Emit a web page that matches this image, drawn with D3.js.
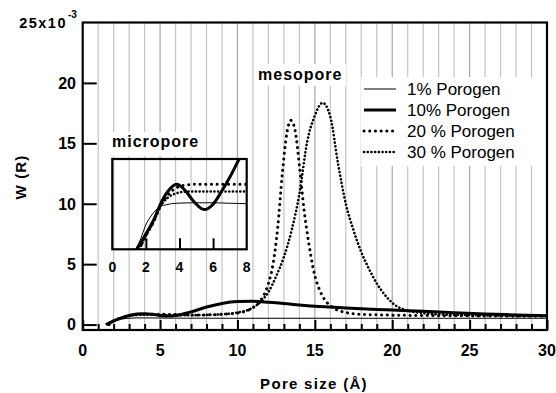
<!DOCTYPE html>
<html>
<head>
<meta charset="utf-8">
<script src="https://cdn.jsdelivr.net/npm/d3@7"></script>
<style>
  body { margin: 0; background: #fff; }
  text { font-family: Arial, "Liberation Sans", sans-serif; }
</style>
</head>
<body>
<div id="chart"></div>
<script>
// ---- data (pore size in Å, W(R) in 1e-3) ----
const seriesNames = ['1% Porogen', '10% Porogen', '20 % Porogen', '30 % Porogen'];

const p1 = [[1.5,0],[2,0.3],[2.5,0.45],[3,0.52],[3.5,0.55],[4,0.55],[6,0.53],[10,0.52],[15,0.52],[20,0.52],[25,0.52],[30,0.52]];
const p10 = [[1.5,0],[2,0.3],[2.5,0.55],[3,0.75],[3.5,0.88],[4,0.9],[4.5,0.85],[5,0.75],[5.5,0.7],[6,0.75],[7,1.05],[8,1.45],
  [9,1.75],[10,1.9],[11,1.92],[12,1.85],[13,1.75],[14,1.62],[15,1.52],[16,1.45],[17,1.38],[18,1.31],[19,1.25],[20,1.2],
  [22,1.1],[24,0.98],[26,0.88],[28,0.8],[30,0.72]];
const p20 = [[1.7,0],[2,0.3],[2.5,0.55],[3,0.72],[3.5,0.82],[4,0.85],[5,0.85],[6,0.83],[7,0.8],[8,0.8],[9,0.85],[10,0.95],
  [10.5,1.1],[11,1.4],[11.5,2.0],[12,3.4],[12.3,5.0],[12.6,8.0],[12.9,12.5],[13.2,15.9],[13.45,16.9],[13.7,16.2],[14,13.2],
  [14.3,9.5],[14.6,6.8],[14.9,4.6],[15.4,2.6],[15.8,1.8],[16.3,1.3],[17,1.0],[18,0.85],[20,0.78],[25,0.72],[30,0.68]];
const p30 = [[1.7,0],[2,0.3],[2.5,0.55],[3,0.72],[3.5,0.8],[4,0.82],[5,0.8],[6,0.78],[7,0.78],[8,0.8],[9,0.85],[10,1.0],
  [11,1.4],[11.5,1.9],[12,2.7],[12.5,4.0],[13,5.6],[13.5,7.8],[14,10.8],[14.5,15.1],[15,17.3],[15.5,18.35],[16,17.2],
  [16.5,13.3],[17,10.0],[17.5,7.8],[18,6.0],[18.5,4.6],[19,3.4],[19.5,2.5],[20,1.8],[21,1.15],[22,0.95],[23,0.85],
  [25,0.78],[30,0.7]];

// inset (micropore), relative units
const i1 = [[1.45,0.02],[1.7,0.12],[1.95,0.25],[2.35,0.38],[2.84,0.47],[3.24,0.495],[3.8,0.51],[5,0.515],[6,0.515],[7,0.51],[8,0.505]];
const i10 = [[1.45,0],[2,0.17],[2.5,0.34],[2.84,0.49],[3.3,0.64],[3.83,0.72],[4.3,0.66],[4.8,0.54],[5.47,0.44],[6,0.5],
  [6.5,0.64],[7,0.8],[7.55,1.0],[8,1.16]];
const i20 = [[1.6,0],[2,0.15],[2.5,0.32],[2.84,0.47],[3.3,0.6],[3.8,0.68],[4.3,0.71],[5,0.72],[8,0.72]];
const i30 = [[1.6,0],[2,0.15],[2.5,0.32],[2.84,0.47],[3.3,0.57],[3.8,0.62],[4.5,0.64],[8,0.64]];

const xTicks = [0, 5, 10, 15, 20, 25, 30];
const yTicks = [0, 5, 10, 15, 20];
const insetTicks = [0, 2, 4, 6, 8];

// ---- layout ----
const width = 556, height = 393;
const styles = [
  { w: 1, dash: null, cap: 'butt' },
  { w: 3, dash: null, cap: 'butt' },
  { w: 3, dash: '0.1,5.6', cap: 'round' },
  { w: 2.6, dash: '0.1,3.6', cap: 'round' }
];

const svg = d3.select('#chart').append('svg')
  .attr('width', width).attr('height', height);

const x = d3.scaleLinear().domain([0, 30]).range([82.7, 547]);
const y = d3.scaleLinear().domain([-0.45, 25]).range([330, 22.5]);

// grid
svg.append('g').selectAll('line')
  .data(d3.range(1, 30))
  .enter().append('line')
  .attr('x1', d => x(d)).attr('x2', d => x(d))
  .attr('y1', y(25)).attr('y2', y(-0.45))
  .attr('stroke', d => d % 5 === 0 ? '#a6a6a6' : '#c4c4c4')
  .attr('stroke-width', 1.2);

// white boxes behind legend and labels
svg.append('rect').attr('x', 361).attr('y', 77).attr('width', 185).attr('height', 89).attr('fill', '#fff');
svg.append('rect').attr('x', 255).attr('y', 64).attr('width', 91).attr('height', 22).attr('fill', '#fff');
svg.append('rect').attr('x', 109).attr('y', 132).attr('width', 94).attr('height', 24).attr('fill', '#fff');

// curves
svg.append('clipPath').attr('id', 'clip').append('rect')
  .attr('x', x(0)).attr('y', y(25)).attr('width', x(30) - x(0)).attr('height', y(-0.45) - y(25));

const line = d3.line().x(d => x(d[0])).y(d => y(d[1])).curve(d3.curveMonotoneX);
const mainG = svg.append('g').attr('clip-path', 'url(#clip)');
[p1, p10, p20, p30].forEach((s, i) => {
  mainG.append('path').datum(s)
    .attr('fill', 'none').attr('stroke', '#000')
    .attr('stroke-width', styles[i].w)
    .attr('stroke-dasharray', styles[i].dash)
    .attr('stroke-linecap', styles[i].cap)
    .attr('d', line);
});

// axes
const xAxis = svg.append('g').attr('transform', `translate(0,${y(-0.45)})`)
  .call(d3.axisBottom(x).tickValues(d3.range(0, 31)).tickSize(0).tickFormat(''));
xAxis.select('.domain').remove();
xAxis.selectAll('.tick line')
  .attr('y2', d => d % 5 === 0 ? -10 : -6)
  .attr('stroke', '#000').attr('stroke-width', 2);

svg.append('g').selectAll('text').data(xTicks).enter().append('text')
  .attr('x', d => x(d)).attr('y', 356)
  .attr('text-anchor', 'middle')
  .attr('font-size', 16).attr('font-weight', 'bold')
  .text(d => d);

const yAxis = svg.append('g').attr('transform', `translate(${x(0)},0)`)
  .call(d3.axisLeft(y).tickValues(yTicks).tickSize(0).tickFormat(''));
yAxis.select('.domain').remove();
yAxis.selectAll('.tick line').attr('x2', 14).attr('stroke', '#000').attr('stroke-width', 2);

svg.append('g').selectAll('text').data(yTicks).enter().append('text')
  .attr('x', 76).attr('y', d => y(d) + 5.8)
  .attr('text-anchor', 'end')
  .attr('font-size', 16).attr('font-weight', 'bold')
  .text(d => d);

svg.append('text')
  .attr('x', 67).attr('y', 28)
  .attr('text-anchor', 'end')
  .attr('font-size', 14.5).attr('font-weight', 'bold').attr('letter-spacing', 1.5)
  .text('25x10');
svg.append('text').attr('x', 68).attr('y', 18)
  .attr('font-size', 10).attr('font-weight', 'bold').text('-3');

// frame
svg.append('rect')
  .attr('x', x(0)).attr('y', y(25))
  .attr('width', x(30) - x(0)).attr('height', y(-0.45) - y(25))
  .attr('fill', 'none').attr('stroke', '#000').attr('stroke-width', 2.2);

// axis titles
svg.append('text')
  .attr('transform', 'translate(26,177) rotate(-90)')
  .attr('text-anchor', 'middle')
  .attr('font-size', 15).attr('font-weight', 'bold').attr('letter-spacing', 1.2)
  .text('W (R)');
svg.append('text')
  .attr('x', 314).attr('y', 389)
  .attr('text-anchor', 'middle')
  .attr('font-size', 15).attr('font-weight', 'bold').attr('letter-spacing', 1.3)
  .text('Pore size (Å)');

// labels
svg.append('text').attr('x', 258).attr('y', 80)
  .attr('font-size', 16).attr('font-weight', 'bold').attr('letter-spacing', 1)
  .text('mesopore');
svg.append('text').attr('x', 112).attr('y', 147)
  .attr('font-size', 16).attr('font-weight', 'bold').attr('letter-spacing', 1)
  .text('micropore');

// legend
const legend = svg.append('g');
seriesNames.forEach((name, i) => {
  const ly = 89 + i * 21;
  legend.append('line')
    .attr('x1', 364).attr('x2', 396).attr('y1', ly).attr('y2', ly)
    .attr('stroke', '#000').attr('stroke-width', styles[i].w)
    .attr('stroke-dasharray', styles[i].dash)
    .attr('stroke-linecap', styles[i].cap);
  legend.append('text')
    .attr('x', 407).attr('y', ly + 6)
    .attr('font-size', 17)
    .text(name);
});

// inset
const ix = d3.scaleLinear().domain([0, 8]).range([112.3, 246.7]);
const iy = d3.scaleLinear().domain([0, 1]).range([249.3, 159]);

svg.append('clipPath').attr('id', 'iclip').append('rect')
  .attr('x', ix(0)).attr('y', iy(1)).attr('width', ix(8) - ix(0)).attr('height', iy(0) - iy(1));

const iline = d3.line().x(d => ix(d[0])).y(d => iy(d[1])).curve(d3.curveMonotoneX);
const insetG = svg.append('g').attr('clip-path', 'url(#iclip)');
[i1, i10, i20, i30].forEach((s, i) => {
  insetG.append('path').datum(s)
    .attr('fill', 'none').attr('stroke', '#000')
    .attr('stroke-width', styles[i].w)
    .attr('stroke-dasharray', styles[i].dash)
    .attr('stroke-linecap', styles[i].cap)
    .attr('d', iline);
});

const ia = svg.append('g').attr('transform', `translate(0,${iy(0)})`)
  .call(d3.axisBottom(ix).tickValues([2, 4, 6]).tickSize(0).tickFormat(''));
ia.select('.domain').remove();
ia.selectAll('.tick line').attr('y2', -11).attr('stroke', '#000').attr('stroke-width', 2);

svg.append('rect')
  .attr('x', ix(0)).attr('y', iy(1))
  .attr('width', ix(8) - ix(0)).attr('height', iy(0) - iy(1))
  .attr('fill', 'none').attr('stroke', '#000').attr('stroke-width', 2.2);

svg.append('g').selectAll('text').data(insetTicks).enter().append('text')
  .attr('x', d => ix(d)).attr('y', 272)
  .attr('text-anchor', 'middle')
  .attr('font-size', 14).attr('font-weight', 'bold')
  .text(d => d);
</script>
</body>
</html>
